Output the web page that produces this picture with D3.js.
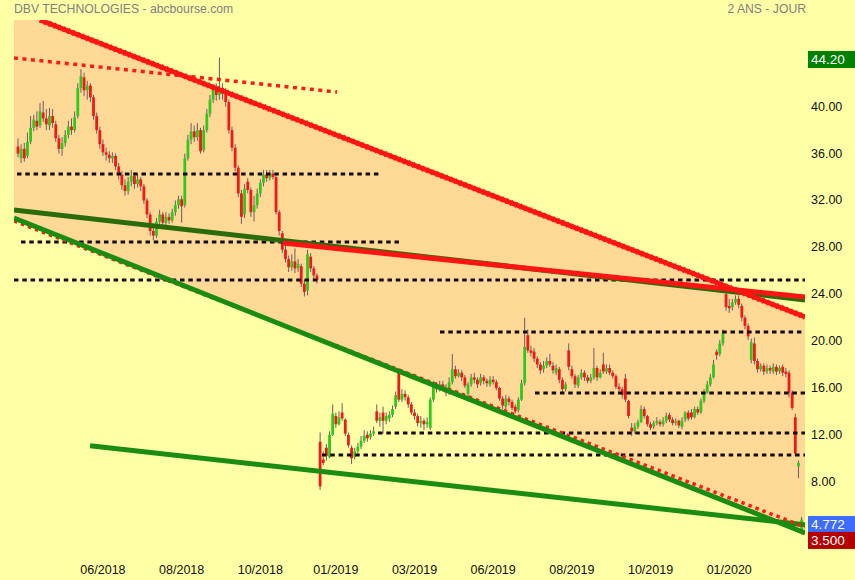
<!DOCTYPE html>
<html><head><meta charset="utf-8">
<script src="https://cdn.jsdelivr.net/npm/d3@7"></script>
<style>html,body{margin:0;padding:0;background:#FFFFA6;} svg{display:block;}</style>
</head><body><svg id="c" width="855" height="580"></svg>
<script>
// ---- data (daily candles, compressed: each bar ~2 sessions) ----
const open=[36.6,35.6,36.4,35.8,37.0,38.2,38.8,38.4,39.5,39.0,
38.4,39.2,38.5,37.3,36.4,36.9,37.6,38.3,38.0,39.2,
41.6,42.5,41.4,41.8,40.8,39.2,38.0,36.8,36.1,35.9,
35.6,35.8,34.9,34.2,33.3,32.8,33.6,34.1,33.4,33.8,
33.2,32.0,30.8,29.4,29.0,30.2,30.8,30.1,30.6,30.3,
31.0,31.6,32.1,31.6,35.6,37.2,37.9,37.4,38.0,36.3,
38.0,39.4,40.6,41.6,41.0,41.6,41.2,40.4,38.0,36.5,
34.8,32.6,30.8,33.6,32.9,31.0,31.6,32.6,33.5,34.2,
33.9,34.3,34.0,31.0,29.2,27.8,27.0,26.3,26.8,26.2,
26.4,24.9,24.3,27.2,26.2,25.6,11.4,9.9,10.9,10.1,
12.0,13.6,12.9,13.9,13.3,12.0,10.9,10.1,10.6,11.0,
11.5,12.0,11.8,12.1,14.0,13.2,13.9,13.2,13.4,13.7,
14.4,17.3,15.0,15.5,15.2,14.6,13.9,13.6,13.0,13.2,
12.9,12.6,15.0,16.2,15.9,16.3,16.0,15.6,16.5,17.6,
17.0,17.3,16.9,15.5,16.3,16.9,16.7,16.4,16.9,16.6,
16.3,16.7,16.5,16.0,15.1,14.4,15.1,14.8,14.4,14.1,
15.0,16.4,20.5,19.2,19.1,18.5,18.0,17.6,17.9,18.3,
17.9,17.3,17.6,16.7,15.9,19.2,17.6,17.0,16.2,16.9,
17.3,16.9,16.6,16.9,17.7,16.9,18.0,17.4,17.7,17.3,
17.0,16.1,15.9,16.8,14.9,12.6,12.3,12.7,13.1,14.2,
13.6,12.9,12.7,13.0,13.1,12.9,13.2,13.7,13.3,13.0,
13.2,12.7,13.3,13.9,13.9,13.5,14.2,13.9,14.9,15.6,
16.3,16.9,19.1,18.9,19.8,24.0,23.0,22.9,23.3,23.6,
23.0,22.0,21.3,18.4,19.8,18.3,17.6,17.9,17.4,17.7,
17.4,17.8,17.4,17.8,17.4,17.3,15.6,13.5,9.3,3.7];
const high=[37.3,36.8,36.9,37.8,39.2,39.3,39.6,40.3,40.5,39.8,
39.9,39.8,38.8,37.6,37.4,38.0,38.8,39.0,39.6,42.0,
43.2,42.9,42.2,42.0,41.0,39.5,38.3,37.2,36.5,36.2,
36.1,36.0,35.2,34.5,33.8,34.0,34.6,34.4,34.2,34.0,
33.4,32.2,31.0,29.8,30.5,31.2,31.0,31.0,30.9,31.3,
32.0,32.4,32.4,36.0,37.6,38.6,38.4,38.6,38.2,38.4,
39.8,41.0,41.9,42.0,44.2,42.0,41.6,40.6,38.3,36.8,
35.0,32.9,33.4,33.9,33.1,32.4,33.0,33.8,34.6,34.6,
34.6,34.6,34.2,31.2,29.4,28.2,27.3,27.4,27.9,27.0,
26.6,25.2,27.8,27.5,26.4,25.8,12.2,10.6,11.2,12.3,
14.6,13.9,14.0,14.7,13.4,12.2,11.1,10.9,11.3,11.9,
12.4,12.3,12.4,12.7,14.6,13.9,14.4,13.9,14.0,14.5,
15.7,17.6,15.9,15.8,15.4,14.8,14.2,13.8,13.6,13.4,
13.5,15.2,16.6,16.5,16.6,16.6,16.3,16.9,18.9,17.9,
17.6,17.5,17.1,16.5,17.2,17.3,16.9,17.2,17.1,16.8,
17.0,17.0,16.7,16.1,15.3,15.4,15.3,15.0,14.6,15.2,
16.7,22.0,21.0,19.6,19.4,18.7,18.2,18.3,18.6,18.9,
18.2,18.0,17.8,16.9,16.5,19.8,17.9,17.2,17.1,17.6,
17.5,17.1,17.2,19.4,17.9,17.6,19.0,18.0,18.0,17.5,
17.2,16.4,16.1,17.2,15.0,13.0,13.0,13.3,14.5,14.4,
13.7,13.1,13.2,13.5,13.3,13.5,13.9,13.9,13.5,13.4,
13.3,13.5,14.0,14.1,14.2,14.4,14.4,15.1,15.9,16.6,
17.2,18.4,19.3,20.1,21.0,24.3,23.6,23.6,23.9,23.9,
23.2,22.2,21.5,20.2,20.3,18.5,18.1,18.1,18.0,17.9,
18.1,18.0,17.9,18.0,17.7,17.5,15.8,13.8,9.8,5.0];
const low=[35.7,35.2,35.3,35.6,36.8,37.9,38.0,38.2,38.7,38.0,
38.0,38.2,37.0,36.0,35.8,36.6,37.3,37.6,37.8,39.0,
41.2,40.9,40.6,40.4,38.9,37.7,36.4,35.8,35.4,35.2,
35.2,34.6,33.8,32.9,32.4,32.5,33.2,33.0,33.1,32.8,
31.7,30.5,29.0,28.6,28.8,29.8,29.8,29.9,30.0,30.1,
30.7,31.3,30.1,31.4,35.4,36.8,37.0,37.1,36.0,36.1,
37.8,39.1,40.3,40.5,40.6,40.6,40.0,37.7,36.2,34.5,
32.3,30.0,30.5,32.6,30.6,30.2,31.3,32.3,33.2,33.6,
33.7,33.8,30.8,29.0,27.5,26.7,25.9,26.0,25.8,25.9,
24.6,23.8,23.9,25.9,25.3,24.9,7.3,9.4,9.8,10.0,
11.9,12.6,12.8,13.2,11.9,10.9,9.5,9.9,10.4,10.8,
11.3,11.4,11.6,11.9,13.0,12.7,12.1,12.9,13.1,13.5,
14.2,14.8,14.8,14.9,14.3,13.7,13.3,12.7,12.6,12.4,
12.6,12.4,14.8,15.6,15.7,15.7,15.3,15.4,16.3,16.8,
16.9,16.6,16.0,15.2,16.1,16.4,16.0,16.2,16.3,16.1,
16.1,16.3,15.8,14.9,14.2,14.2,14.5,14.1,13.8,13.9,
14.9,16.2,19.0,18.7,18.2,17.7,17.2,17.3,17.7,17.8,
17.2,17.1,16.4,15.6,15.7,17.5,16.8,16.0,16.0,16.7,
16.6,16.4,16.4,16.7,16.6,16.8,17.2,17.2,17.1,16.8,
15.9,15.7,15.1,14.8,13.4,11.9,12.1,12.5,13.0,13.4,
12.7,12.4,12.5,12.8,12.7,12.7,13.0,13.1,12.8,12.8,
12.6,12.5,13.1,13.2,13.3,13.4,13.7,13.8,14.7,15.5,
16.1,16.8,18.4,18.7,19.6,22.6,22.4,22.6,23.1,22.8,
21.7,21.0,20.1,18.1,18.0,17.3,17.4,17.1,17.2,17.2,
17.2,17.1,17.2,17.0,16.9,15.2,14.1,10.2,8.3,3.5];
const close=[36.0,36.4,35.6,37.0,38.2,38.9,38.3,39.6,39.0,38.5,
39.2,38.6,37.3,36.4,36.9,37.6,38.3,38.0,39.1,41.6,
42.6,41.4,41.8,40.8,39.2,38.0,36.8,36.1,35.9,35.6,
35.8,34.9,34.2,33.3,32.8,33.6,34.1,33.4,33.8,33.2,
32.0,30.8,29.4,29.0,30.2,30.8,30.1,30.6,30.3,31.0,
31.6,32.1,31.5,35.6,37.2,37.9,37.4,38.0,36.2,38.0,
39.4,40.6,41.6,41.0,41.6,41.2,40.4,38.0,36.5,34.8,
32.6,30.6,33.0,32.9,31.0,31.6,32.6,33.5,34.2,33.9,
34.3,34.0,31.0,29.4,27.8,27.0,26.3,26.8,26.2,26.6,
24.9,24.2,27.4,26.2,25.6,25.2,7.6,9.6,10.2,12.0,
13.8,12.9,13.5,13.4,12.1,11.1,10.0,10.6,11.0,11.5,
11.9,11.7,12.1,12.3,13.2,13.5,13.2,13.6,13.7,14.2,
15.4,15.0,15.5,15.2,14.6,13.9,13.6,13.0,13.2,12.9,
13.1,15.0,16.2,15.9,16.3,16.0,15.6,16.5,17.6,17.0,
17.3,16.9,16.2,16.3,16.9,16.7,16.3,16.9,16.6,16.4,
16.7,16.5,16.0,15.1,14.5,15.1,14.8,14.3,14.0,15.0,
16.4,19.5,19.2,19.0,18.5,18.0,17.5,17.9,18.3,18.0,
17.5,17.7,16.7,15.9,16.3,17.8,17.0,16.3,16.9,17.3,
16.9,16.6,16.9,17.7,16.9,17.3,17.4,17.7,17.3,17.0,
16.1,15.9,15.4,15.0,13.6,12.3,12.7,13.1,14.2,13.6,
12.9,12.6,13.0,13.2,12.9,13.2,13.6,13.3,13.0,13.2,
12.8,13.2,13.9,13.4,13.5,14.2,13.9,14.9,15.6,16.3,
16.9,18.0,18.8,19.8,20.7,22.9,22.8,23.3,23.6,23.1,
22.0,21.3,20.4,19.9,18.3,17.6,17.9,17.4,17.7,17.5,
17.8,17.4,17.7,17.3,17.2,15.6,14.3,10.4,9.6,4.77];

const priceTicks=[8,12,16,20,24,28,32,36,40];
const dateTickIdx=[27,52,77,101,126,151,176,201,226];
const dateTickLabels=["06/2018","08/2018","10/2018","01/2019","03/2019","06/2019","08/2019","10/2019","01/2020"];

// trend lines: [ [barIndex, price], [barIndex, price] ]
const upperRed=[[7.0,47.40],[250.1,22.06]];
const topRedDotted=[[-1.27,44.16],[101.4,41.25]];
const midGreen=[[-1.27,31.19],[250.1,23.51]];
const midRed=[[84.2,28.37],[250.1,23.77]];
const lowerGreen=[[-1.27,30.50],[250.1,3.62]];
const lowerRedDotted=[[-1.27,30.25],[250.1,4.13]];
const bottomGreen=[[22.9,11.06],[250.1,4.32]];
// horizontal support/resistance levels
const levelPrice=[34.26,28.46,25.21,20.78,15.57,12.16,10.28];
const levelFrom=[-0.32,0.95,-1.27,134.1,164.3,114.4,96.6];
const levelTo=[115.0,121.7,250.1,250.1,250.1,250.1,250.1];
// right-hand price flags
const flagValues=[44.20,4.772,3.500];
const flagText=["44.20","4.772","3.500"];

// ---- drawing ----
const svg=d3.select("#c");
const x=d3.scaleLinear().domain([0,249]).range([18,801.6]);
const y=d3.scaleLinear().domain([8,40]).range([481.7,106.7]);
const FONT="'Liberation Sans', Arial, sans-serif";

svg.append("rect").attr("width",855).attr("height",580).attr("fill","#FFFFA6");
svg.append("defs").append("clipPath").attr("id","plot")
  .append("rect").attr("x",14).attr("y",20).attr("width",791).attr("height",540);
const g=svg.append("g").attr("clip-path","url(#plot)");

// channel fill
function at(line,i){const [a,b]=line;return a[1]+(b[1]-a[1])*(i-a[0])/(b[0]-a[0]);}
const i0=-1.27,i1=250.1;
const poly=[[i0,at(upperRed,i0)],[i1,at(upperRed,i1)],[i1,at(lowerGreen,i1)],[i0,at(lowerGreen,i0)]];
g.append("path").attr("d",d3.line().x(d=>x(d[0])).y(d=>y(d[1]))(poly)+"Z").attr("fill","#FFD995");

// candles
const idx=d3.range(close.length);
const cg=g.append("g");
cg.selectAll("line.w").data(idx).join("line")
  .attr("x1",i=>x(i)).attr("x2",i=>x(i))
  .attr("y1",i=>y(high[i])).attr("y2",i=>y(low[i]))
  .attr("stroke","#6e5a66").attr("stroke-width",1);
const bw=2.8;
cg.selectAll("rect.b").data(idx).join("rect")
  .attr("x",i=>x(i)-bw/2).attr("width",bw)
  .attr("y",i=>y(Math.max(open[i],close[i])))
  .attr("height",i=>Math.max(1,Math.abs(y(open[i])-y(close[i]))))
  .attr("fill",i=>close[i]>=open[i]?"#2fc81e":"#ee1a1a");

// horizontal dotted levels
g.selectAll("line.lv").data(levelPrice).join("line")
  .attr("x1",(d,k)=>x(levelFrom[k])).attr("x2",(d,k)=>x(levelTo[k]))
  .attr("y1",d=>y(d)).attr("y2",d=>y(d))
  .attr("stroke","#140c0c").attr("stroke-width",3).attr("stroke-dasharray","4.5,3.8");

const ln=d3.line().x(d=>x(d[0])).y(d=>y(d[1]));
function trend(data,color,w,dash){
  const p=g.append("path").attr("d",ln(data)).attr("fill","none")
    .attr("stroke",color).attr("stroke-width",w);
  if(dash)p.attr("stroke-dasharray",dash);
  return p;
}
trend(bottomGreen,"#1b8c12",5);
trend(lowerRedDotted,"#ff1a1a",3.5,"3.5,4");
trend(lowerGreen,"#1b8c12",5);
trend(midGreen,"#2a6c0c",5);
trend(midRed,"#ff1414",5);
trend(topRedDotted,"#ff1a1a",3.5,"4,4.5");
trend(upperRed,"#ff1414",4.8);
trend(upperRed,"#ff1414",6,"1.5,3.5");

// price axis labels
svg.selectAll("text.pt").data(priceTicks).join("text")
  .attr("x",811).attr("y",d=>y(d)).attr("dominant-baseline","central")
  .attr("font-family",FONT).attr("font-size",12.5).attr("fill","#111")
  .text(d=>d.toFixed(2));

// date labels
svg.selectAll("text.dt").data(dateTickIdx).join("text")
  .attr("x",d=>x(d)).attr("y",569.5).attr("text-anchor","middle").attr("dominant-baseline","central")
  .attr("font-family",FONT).attr("font-size",12.5).attr("fill","#111")
  .text((d,k)=>dateTickLabels[k]);

// price flags
const flagColors=["#008000","#3d6cff","#b40000"];
const flagShift=[2,5,6];
flagValues.forEach((v,k)=>{
  const cy=y(v)+flagShift[k];
  svg.append("rect").attr("x",808).attr("y",cy-8.5).attr("width",47).attr("height",17).attr("fill",flagColors[k]);
  svg.append("text").attr("x",811).attr("y",cy).attr("dominant-baseline","central")
    .attr("font-family",FONT).attr("font-size",13.5).attr("fill","#fff").text(flagText[k]);
});

// titles
svg.append("text").attr("x",14).attr("y",9).attr("dominant-baseline","central")
  .attr("font-family",FONT).attr("font-size",12.2).attr("fill","#7f7f7f").text("DBV TECHNOLOGIES - abcbourse.com");
svg.append("text").attr("x",806).attr("y",9).attr("text-anchor","end").attr("dominant-baseline","central")
  .attr("font-family",FONT).attr("font-size",12.2).attr("fill","#7f7f7f").text("2 ANS - JOUR");
</script></body></html>
